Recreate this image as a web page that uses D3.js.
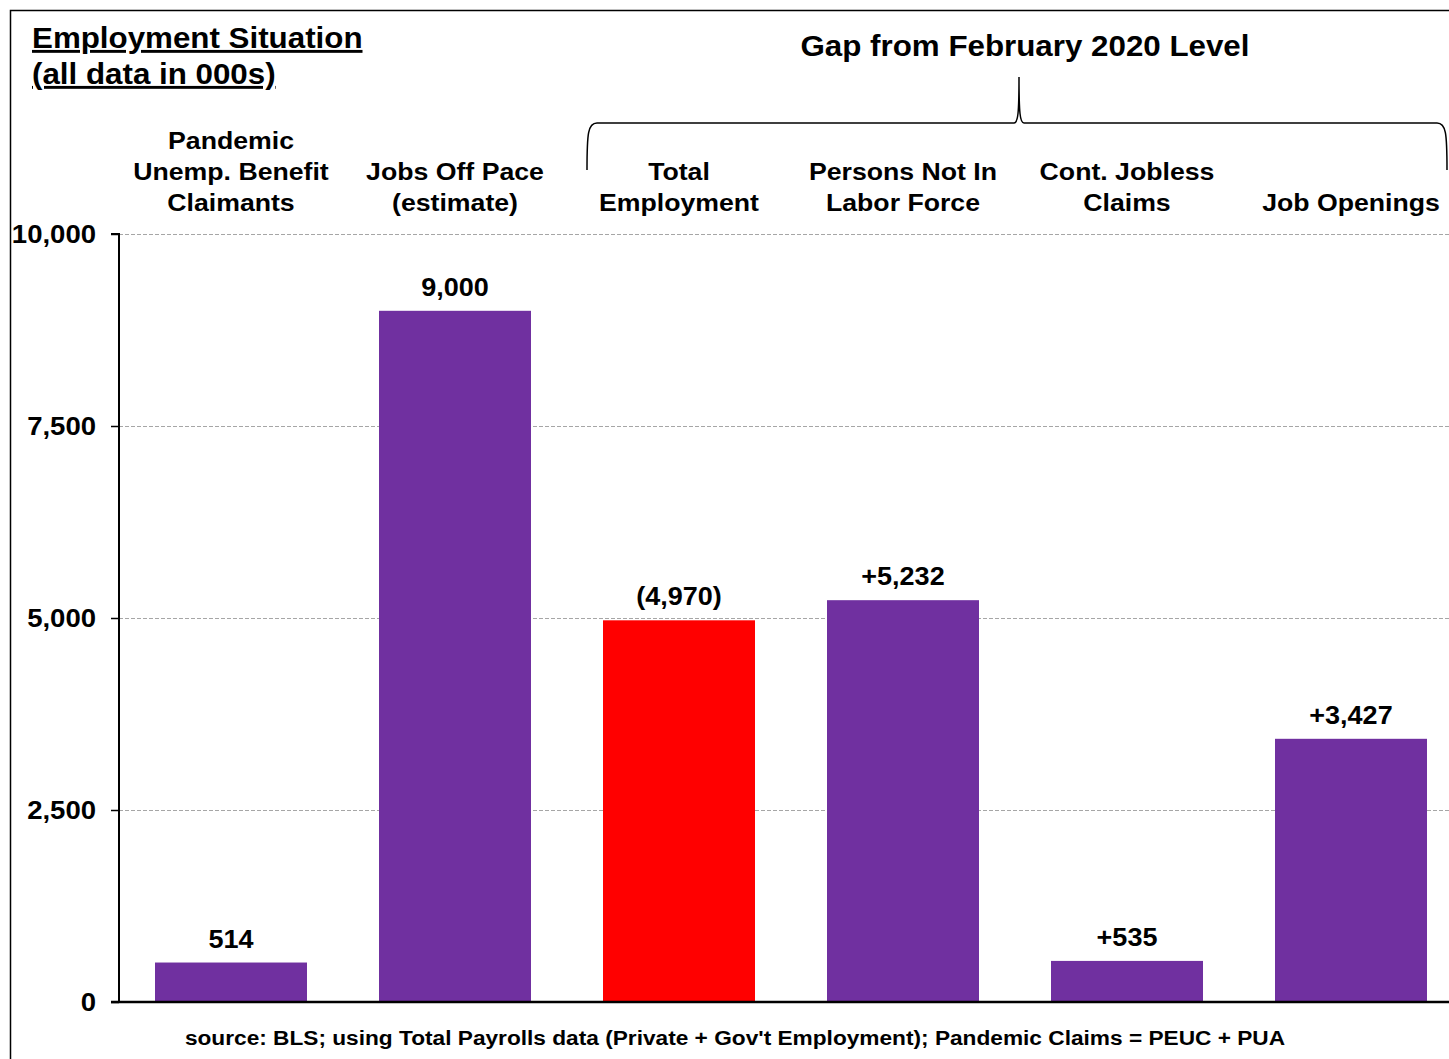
<!DOCTYPE html>
<html lang="en">
<head>
    <meta charset="UTF-8">
    <title>Employment Situation</title>
    <script type="text/javascript" src="https://cdn.jsdelivr.net/npm/d3@7"></script>
    <style>
        body { margin: 0; background: #fff; }
        text { font-family: "Liberation Sans", Arial, sans-serif; font-weight: bold; fill: #000; }
    </style>
</head>
<body>
<script type="text/javascript">
    var w = 1449;
    var h = 1059;
    var sx = 1.08;   // the original text is a bit stretched horizontally

    // data (in 000s)
    var categories = [
        ["Pandemic", "Unemp. Benefit", "Claimants"],
        ["Jobs Off Pace", "(estimate)"],
        ["Total", "Employment"],
        ["Persons Not In", "Labor Force"],
        ["Cont. Jobless", "Claims"],
        ["Job Openings"]
    ];
    var values = [514, 9000, 4970, 5232, 535, 3427];
    var valueLabels = ["514", "9,000", "(4,970)", "+5,232", "+535", "+3,427"];
    var negative = [false, false, true, false, false, false];
    var yTicks = [0, 2500, 5000, 7500, 10000];

    var margin = {left: 119, top: 234, bottom: 1002};

    var svg = d3.select("body")
        .append("svg")
        .attr("width", w)
        .attr("height", h);

    function label(px, py, size, anchor) {
        return svg.append("text")
            .attr("transform", "translate(" + px + "," + py + ") scale(" + sx + ",1)")
            .attr("font-size", size)
            .attr("text-anchor", anchor || "start");
    }

    // outer border
    svg.append("rect")
        .attr("x", 10.5).attr("y", 10.5)
        .attr("width", w + 10).attr("height", h + 10)
        .attr("fill", "none")
        .attr("stroke", "#000")
        .attr("stroke-width", 1.5);

    var x = d3.scaleBand()
        .domain(d3.range(values.length))
        .range([margin.left, margin.left + 6 * 224])
        .paddingInner(72 / 224)
        .paddingOuter(36 / 224);

    var y = d3.scaleLinear()
        .domain([0, 10000])
        .range([margin.bottom, margin.top]);

    // gridlines
    svg.selectAll("line.grid")
        .data(yTicks.filter(function (d) { return d > 0; }))
        .enter()
        .append("line")
        .attr("x1", margin.left).attr("x2", w)
        .attr("y1", function (d) { return Math.round(y(d)) + 0.5; })
        .attr("y2", function (d) { return Math.round(y(d)) + 0.5; })
        .attr("stroke", "#a6a6a6")
        .attr("stroke-dasharray", "4,2");

    // bars
    svg.selectAll("rect.bar")
        .data(values)
        .enter()
        .append("rect")
        .attr("x", function (d, i) { return x(i); })
        .attr("y", function (d) { return y(d); })
        .attr("width", x.bandwidth())
        .attr("height", function (d) { return y(0) - y(d); })
        .attr("fill", function (d, i) { return negative[i] ? "#ff0000" : "#7030a0"; });

    // value labels
    values.forEach(function (d, i) {
        label(x(i) + x.bandwidth() / 2, y(d) - 15, 25, "middle").text(valueLabels[i]);
    });

    // y axis
    var yAxis = d3.axisLeft(y)
        .tickValues(yTicks)
        .tickSize(8)
        .tickFormat(d3.format(","));
    var gy = svg.append("g")
        .attr("transform", "translate(" + margin.left + ",0)")
        .call(yAxis);
    gy.select(".domain")
        .attr("d", "M-8," + y(10000) + "H0V" + y(0))
        .attr("stroke", "#000").attr("stroke-width", 2);
    gy.selectAll(".tick line").attr("stroke", "#000").attr("stroke-width", 1.5);
    gy.selectAll(".tick text")
        .attr("x", -23 / sx)
        .attr("transform", "scale(" + sx + ",1)")
        .attr("font-size", 25.5)
        .attr("font-family", "Liberation Sans, Arial, sans-serif")
        .attr("font-weight", "bold")
        .attr("fill", "#000");

    // x axis baseline
    svg.append("line")
        .attr("x1", margin.left - 8).attr("x2", w)
        .attr("y1", y(0)).attr("y2", y(0))
        .attr("stroke", "#000").attr("stroke-width", 2.5);

    // category labels (bottom line at fixed baseline)
    categories.forEach(function (lines, i) {
        var t = label(x(i) + x.bandwidth() / 2, 211, 24.7, "middle");
        lines.forEach(function (s, j) {
            t.append("tspan")
                .attr("x", 0)
                .attr("y", -(lines.length - 1 - j) * 31)
                .text(s);
        });
    });

    // titles
    label(32, 48, 29).style("text-decoration", "underline").style("text-decoration-skip-ink", "none")
        .text("Employment Situation");
    label(32, 84, 29).style("text-decoration", "underline").style("text-decoration-skip-ink", "none")
        .text("(all data in 000s)");
    label(1025, 56, 29, "middle").text("Gap from February 2020 Level");

    // brace
    var bl = 587, br = 1447, bm = 1019, by = 123, bt = 77, bb = 170;
    svg.append("path")
        .attr("d", "M" + bl + "," + bb + " C" + bl + "," + (by + 10) + " " + (bl + 1) + "," + by + " " + (bl + 10) + "," + by +
            " H" + (bm - 5) + " C" + (bm - 1) + "," + by + " " + bm + "," + (by - 10) + " " + bm + "," + bt +
            " C" + bm + "," + (by - 10) + " " + (bm + 1) + "," + by + " " + (bm + 5) + "," + by +
            " H" + (br - 10) + " C" + (br - 1) + "," + by + " " + br + "," + (by + 10) + " " + br + "," + bb)
        .attr("fill", "none")
        .attr("stroke", "#000")
        .attr("stroke-width", 1.5);

    // footer
    label(735, 1045, 21, "middle")
        .text("source: BLS; using Total Payrolls data (Private + Gov't Employment); Pandemic Claims = PEUC + PUA");
</script>
</body>
</html>
